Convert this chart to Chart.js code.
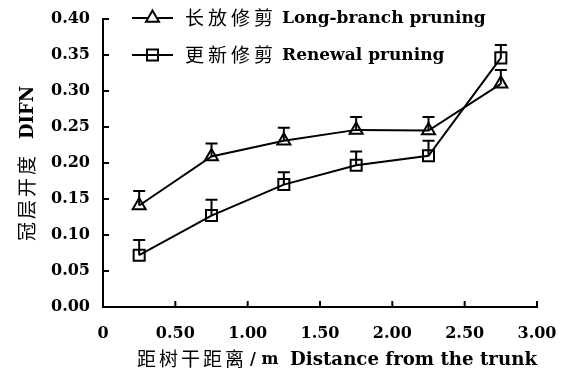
<!DOCTYPE html>
<html>
<head>
<meta charset="utf-8">
<script src="https://cdn.jsdelivr.net/npm/chart.js@4/dist/chart.umd.min.js"></script>
<style>
  body { margin: 0; background: #fff; }
  canvas { display: block; }
</style>
</head>
<body>
<canvas id="chart" width="570" height="371"></canvas>
<script>
// distance from trunk (m) and canopy openness DIFN
var distances = [0.25, 0.75, 1.25, 1.75, 2.25, 2.75];
var longBranch = [0.141, 0.209, 0.231, 0.246, 0.245, 0.310];
var longBranchErr = [0.020, 0.018, 0.018, 0.018, 0.019, 0.019];
var renewal = [0.072, 0.127, 0.170, 0.197, 0.210, 0.346];
var renewalErr = [0.021, 0.022, 0.017, 0.019, 0.021, 0.018];

var seriesZh = ['长放修剪', '更新修剪'];
var seriesEn = ['Long-branch pruning', 'Renewal pruning'];
var xTickLabels = ['0', '0.50', '1.00', '1.50', '2.00', '2.50', '3.00'];
var yTickLabels = ['0.00', '0.05', '0.10', '0.15', '0.20', '0.25', '0.30', '0.35', '0.40'];
var xTitleZh = '距树干距离', xTitleUnit = '/ m', xTitleEn = 'Distance from the trunk';
var yTitleZh = '冠层开度', yTitleEn = 'DIFN';

var serif = '"DejaVu Serif", "Noto Sans CJK SC", serif';

function pts(ys) {
    return distances.map(function (x, i) { return {x: x, y: ys[i]}; });
}

// upward error bars, inward tick marks, legend and axis titles
var extras = {
    id: 'extras',
    afterDatasetsDraw: function (chart) {
        var ctx = chart.ctx;
        var xs = chart.scales.x, ys = chart.scales.y;
        var errs = [longBranchErr, renewalErr];
        ctx.save();
        ctx.strokeStyle = '#000';
        ctx.lineWidth = 2;
        chart.data.datasets.forEach(function (ds, d) {
            ds.data.forEach(function (p, i) {
                var px = xs.getPixelForValue(p.x);
                var y0 = ys.getPixelForValue(p.y);
                var y1 = ys.getPixelForValue(p.y + errs[d][i]);
                ctx.beginPath();
                ctx.moveTo(px, y0);
                ctx.lineTo(px, y1);
                ctx.moveTo(px - 6, y1);
                ctx.lineTo(px + 6, y1);
                ctx.stroke();
            });
        });

        // tick marks pointing into the plot
        var area = chart.chartArea;
        ctx.beginPath();
        xs.ticks.forEach(function (t) {
            var px = xs.getPixelForValue(t.value);
            ctx.moveTo(px, area.bottom);
            ctx.lineTo(px, area.bottom - 6);
        });
        ys.ticks.forEach(function (t) {
            var py = ys.getPixelForValue(t.value);
            ctx.moveTo(area.left, py);
            ctx.lineTo(area.left + 6, py);
        });
        ctx.stroke();

        // legend
        var rows = [18, 55];
        ctx.textBaseline = 'middle';
        ctx.textAlign = 'left';
        chart.data.datasets.forEach(function (ds, d) {
            var y = rows[d];
            ctx.lineWidth = 2;
            ctx.beginPath();
            ctx.moveTo(132, y);
            ctx.lineTo(173, y);
            ctx.stroke();
            ctx.fillStyle = ds.pointStyle === 'triangle' ? '#fff' : 'rgba(0,0,0,0)';
            Chart.helpers.drawPoint(ctx, {pointStyle: ds.pointStyle, radius: ds.pointRadius, borderWidth: 2}, 152.5, y);
            ctx.fillStyle = '#000';
            ctx.font = '19px "Noto Sans CJK SC"';
            ctx.letterSpacing = '4px';
            ctx.fillText(seriesZh[d], 185, y);
            ctx.letterSpacing = '0px';
            ctx.font = 'bold 17px "DejaVu Serif"';
            ctx.fillText(seriesEn[d], 282, y + 1);
        });

        // x title
        var ty = 359;
        ctx.font = '19px "Noto Sans CJK SC"';
        ctx.letterSpacing = '3px';
        ctx.fillText(xTitleZh, 137, ty);
        ctx.letterSpacing = '0px';
        ctx.font = 'bold 16px "DejaVu Serif"';
        ctx.fillText(xTitleUnit, 250, ty + 1);
        ctx.textAlign = 'right';
        ctx.font = 'bold 18.2px "DejaVu Serif"';
        ctx.fillText(xTitleEn, 537, ty + 1);

        // y title, rotated
        ctx.save();
        ctx.translate(27, 241);
        ctx.rotate(-Math.PI / 2);
        ctx.textAlign = 'left';
        ctx.font = '19px "Noto Sans CJK SC"';
        ctx.letterSpacing = '3px';
        ctx.fillText(yTitleZh, 0, 0);
        ctx.letterSpacing = '0px';
        ctx.font = 'bold 18px "DejaVu Serif"';
        ctx.fillText(yTitleEn, 102, 1);
        ctx.restore();
        ctx.restore();
    }
};

var ctx = document.getElementById('chart').getContext('2d');
var myChart = new Chart(ctx, {
    type: 'line',
    data: {
        datasets: [{
            label: seriesZh[0] + ' ' + seriesEn[0],
            data: pts(longBranch),
            borderColor: '#000',
            borderWidth: 2,
            pointStyle: 'triangle',
            pointRadius: 7.5,
            pointBorderWidth: 2,
            pointBorderColor: '#000',
            pointBackgroundColor: 'rgba(0,0,0,0)',
            tension: 0
        }, {
            label: seriesZh[1] + ' ' + seriesEn[1],
            data: pts(renewal),
            borderColor: '#000',
            borderWidth: 2,
            pointStyle: 'rect',
            pointRadius: 7.8,
            pointBorderWidth: 2,
            pointBorderColor: '#000',
            pointBackgroundColor: 'rgba(0,0,0,0)',
            tension: 0
        }]
    },
    options: {
        responsive: false,
        animation: false,
        layout: {padding: {left: 0, right: 33, top: 19, bottom: 0}},
        plugins: {
            legend: {display: false},
            tooltip: {enabled: false}
        },
        scales: {
            x: {
                type: 'linear',
                min: 0,
                max: 3,
                grid: {display: false, drawTicks: false},
                border: {display: true, color: '#000', width: 2},
                ticks: {
                    stepSize: 0.5,
                    padding: 17,
                    color: '#000',
                    font: {family: serif, size: 16, weight: 'bold'},
                    callback: function (v, i) { return xTickLabels[i]; }
                },
                afterFit: function (s) {
                    s.height = 64;
                    s.paddingLeft = 0;
                    s.paddingRight = 0;
                }
            },
            y: {
                min: 0,
                max: 0.4,
                grid: {display: false, drawTicks: false},
                border: {display: true, color: '#000', width: 2},
                ticks: {
                    stepSize: 0.05,
                    padding: 13,
                    color: '#000',
                    font: {family: serif, size: 16, weight: 'bold'},
                    callback: function (v, i) { return yTickLabels[i]; }
                },
                afterFit: function (s) {
                    s.width = 103;
                    s.paddingTop = 0;
                    s.paddingBottom = 0;
                }
            }
        }
    },
    plugins: [extras]
});
</script>
</body>
</html>
